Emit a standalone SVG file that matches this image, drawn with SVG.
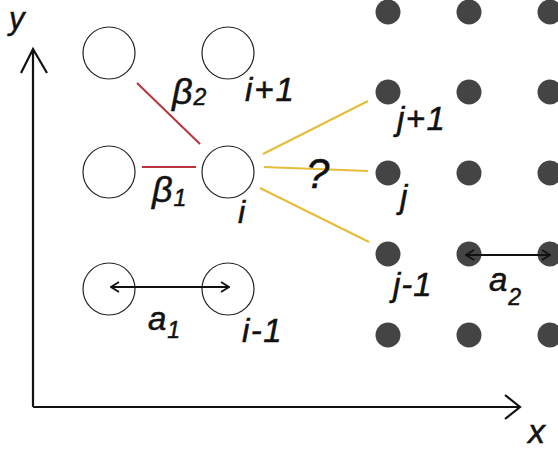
<svg xmlns="http://www.w3.org/2000/svg" width="558" height="450" viewBox="0 0 558 450">
<style>
.lbl{font-family:"Liberation Sans",Arial,sans-serif;font-style:italic;fill:#111;stroke:#111;stroke-width:0.5;}
.ring{fill:none;stroke:#222;stroke-width:1.2;}
.dot{fill:#444;}
.ax{fill:none;stroke:#111;stroke-width:2.2;}
.red{stroke:#b8343a;stroke-width:2;fill:none;}
.yel{stroke:#e6bd3a;stroke-width:2.2;fill:none;}
.dim{stroke:#111;stroke-width:2;fill:none;}
</style>
<defs>
<marker id="chev" viewBox="0 0 10 12" refX="9" refY="6" markerWidth="10" markerHeight="12" markerUnits="userSpaceOnUse" orient="auto-start-reverse">
<path d="M1,1 L9,6 L1,11" fill="none" stroke="#111" stroke-width="1.8"/>
</marker>
</defs>
<rect width="558" height="450" fill="#fff"/>

<g id="axes">
<path class="ax" d="M33,407 L33,49 M21,73 L33,49 L47,73"/>
<path class="ax" d="M33,407 L520,407 M505,395 L520,407 L505,419"/>
<text class="lbl" x="9" y="29" font-size="31">y</text>
<text class="lbl" x="528" y="443" font-size="34">x</text>
</g>

<g id="lattice-a">
<g id="a-top-left"><circle class="ring" cx="109" cy="53" r="26"/></g>
<g id="a-i-plus-1"><circle class="ring" cx="228" cy="53" r="26"/><text class="lbl" x="245" y="101" font-size="33" letter-spacing="2">i+1</text></g>
<g id="a-mid-left"><circle class="ring" cx="109" cy="172" r="26"/></g>
<g id="a-i"><circle class="ring" cx="228" cy="172" r="26"/><text class="lbl" x="238" y="223" font-size="32">i</text></g>
<g id="a-bot-left"><circle class="ring" cx="109" cy="289" r="26"/></g>
<g id="a-i-minus-1"><circle class="ring" cx="228" cy="289" r="26"/><text class="lbl" x="242" y="342" font-size="33" letter-spacing="1.5">i-1</text></g>
</g>

<g id="lattice-b">
<g id="b-r1"><circle class="dot" cx="388" cy="12" r="12.5"/><circle class="dot" cx="469" cy="12" r="12.5"/><circle class="dot" cx="550" cy="12" r="12.5"/></g>
<g id="b-j-plus-1"><circle class="dot" cx="388" cy="92" r="12.5"/><text class="lbl" x="397" y="130" font-size="33" letter-spacing="1.5">j+1</text></g>
<g id="b-r2"><circle class="dot" cx="469" cy="92" r="12.5"/><circle class="dot" cx="550" cy="92" r="12.5"/></g>
<g id="b-j"><circle class="dot" cx="388" cy="173" r="12.5"/><text class="lbl" x="400" y="208" font-size="33">j</text></g>
<g id="b-r3"><circle class="dot" cx="469" cy="173" r="12.5"/><circle class="dot" cx="550" cy="173" r="12.5"/></g>
<g id="b-j-minus-1"><circle class="dot" cx="388" cy="254" r="12.5"/><text class="lbl" x="393" y="296" font-size="33" letter-spacing="1">j-1</text></g>
<g id="b-r4"><circle class="dot" cx="469" cy="254" r="12.5"/><circle class="dot" cx="550" cy="254" r="12.5"/></g>
<g id="b-r5"><circle class="dot" cx="388" cy="335" r="12.5"/><circle class="dot" cx="469" cy="335" r="12.5"/><circle class="dot" cx="550" cy="335" r="12.5"/></g>
</g>

<g id="connectors">
<line class="red" x1="137" y1="83" x2="200" y2="144"/>
<line class="red" x1="142" y1="167" x2="196" y2="167"/>
<line class="yel" x1="263" y1="154" x2="368" y2="101"/>
<line class="yel" x1="264" y1="167" x2="368" y2="171"/>
<line class="yel" x1="260" y1="188" x2="369" y2="242"/>
<line class="dim" x1="111" y1="287" x2="229" y2="287" marker-start="url(#chev)" marker-end="url(#chev)"/>
<line class="dim" x1="466" y1="255" x2="550" y2="255" marker-start="url(#chev)" marker-end="url(#chev)"/>
</g>

<g id="labels">
<text class="lbl" x="172" y="104" font-size="36">β<tspan font-size="23" dx="1" dy="1">2</tspan></text>
<text class="lbl" x="152" y="202" font-size="36">β<tspan font-size="23" dx="1" dy="4">1</tspan></text>
<text class="lbl" x="306" y="188" font-size="42">?</text>
<text class="lbl" x="148" y="330" font-size="33">a<tspan font-size="23" dx="1" dy="8">1</tspan></text>
<text class="lbl" x="489" y="291" font-size="33">a<tspan font-size="23" dx="1" dy="14">2</tspan></text>
</g>
</svg>
